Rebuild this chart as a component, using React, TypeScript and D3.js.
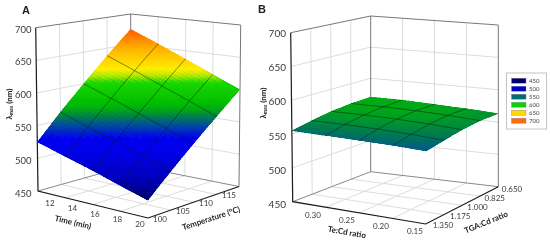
import React from "react";
import * as d3 from "d3";

const zTicks = [450, 500, 550, 600, 650, 700];
const timeTicks = [12, 14, 16, 18, 20];
const tempTicks = [100, 105, 110, 115];
const teTicks = ["0.30", "0.25", "0.20", "0.15"];
const tgaTicks = ["1.350", "1.175", "1.000", "0.825", "0.650"];
const legendValues = [450, 500, 550, 600, 650, 700];
const legendColors = ["#00006e", "#0000cc", "#006e6e", "#10d010", "#ffd800", "#ff6a10"];

// rows: time 12..20, columns: temperature 100..115 (lambda max, nm)
const valuesA = [
  [525, 563, 600, 638, 675],
  [512, 548, 584, 620, 656],
  [500, 535, 568, 602, 637],
  [487, 520, 552, 585, 618],
  [475, 506, 537, 568, 600],
];
// rows: Te:Cd 0.30..0.15, columns: TGA:Cd 1.350..0.650
const valuesB = [
  [555, 561, 566, 569, 570],
  [554, 561, 566, 569, 570],
  [553, 560, 565, 568, 568],
  [552, 558, 563, 566, 566],
  [550, 555, 560, 563, 563],
];

const colorStops: [number, string][] = [
  [450, "#000070"], [475, "#0000b8"], [510, "#0000e8"], [530, "#0000f0"], [548, "#00509a"], [558, "#007a50"],
  [566, "#00a020"], [575, "#00bc00"], [604, "#18d800"], [613, "#b0e800"], [622, "#ffee00"], [650, "#ffb000"],
  [680, "#ff4800"], [700, "#ff3000"],
];
const colorOf = d3.scaleLinear<string>()
  .domain(colorStops.map((d) => d[0]))
  .range(colorStops.map((d) => d[1]))
  .clamp(true);

type P = [number, number];
interface Box { fL: P; fF: P; fB: P; fR: P; cL: P; cF: P; cB: P; cR: P }

const boxA: Box = {
  fL: [38, 191], fF: [148, 218], fB: [130.7, 165], fR: [239, 186.5],
  cL: [35.7, 27.7], cF: [147, 43], cB: [130.7, 14], cR: [240.7, 25],
};
const boxB: Box = {
  fL: [292.7, 201.7], fF: [425.7, 224], fB: [370.7, 171.7], fR: [498.3, 186.7],
  cL: [290.7, 32.7], cF: [427, 42], cB: [370.7, 16], cR: [498.3, 25],
};
// Panel A's colour bands run level across the picture: height on the page gives the band.
const bandA = d3.scaleLinear().domain([141.7, 29.3]).range([525, 675]);

const zNorm = d3.scaleLinear().domain([450, 700]).range([0, 1]);
const lerp = (p: P, q: P, t: number): P => [p[0] + (q[0] - p[0]) * t, p[1] + (q[1] - p[1]) * t];
const proj = (box: Box, a: number, b: number, z: number): P => {
  const floor = lerp(lerp(box.fL, box.fF, a), lerp(box.fB, box.fR, a), b);
  const ceil = lerp(lerp(box.cL, box.cF, a), lerp(box.cB, box.cR, a), b);
  return lerp(floor, ceil, zNorm(z));
};
const pathOf = d3.line<P>().x((d) => d[0]).y((d) => d[1]);
const FONT = "Lato, 'Open Sans', sans-serif";
const GRID = "#dcdcdc";
const CELLS = d3.range(0, 5).map((d) => d / 4);

function Surface({ box, values, band }: { box: Box; values: number[][]; band?: (y: number) => number }) {
  const n = values.length - 1;
  const m = values[0].length - 1;
  const sub = 10;
  const value = (a: number, b: number) => {
    const i = Math.min(Math.floor(a * n), n - 1);
    const j = Math.min(Math.floor(b * m), m - 1);
    const s = a * n - i;
    const t = b * m - j;
    return (1 - s) * ((1 - t) * values[i][j] + t * values[i][j + 1]) + s * ((1 - t) * values[i + 1][j] + t * values[i + 1][j + 1]);
  };
  const steps = d3.range(0, n * sub).map((d) => d / (n * sub));
  const h = 1 / (n * sub);
  const quads = steps.flatMap((a) => steps.map((b) => {
    const v = value(a + h / 2, b + h / 2);
    const c = proj(box, a + h / 2, b + h / 2, v);
    const pts: P[] = [
      proj(box, a, b, value(a, b)),
      proj(box, a + h, b, value(a + h, b)),
      proj(box, a + h, b + h, value(a + h, b + h)),
      proj(box, a, b + h, value(a, b + h)),
    ];
    return { d: pathOf(pts)! + "Z", c: colorOf(band ? band(c[1]) : v) };
  }));
  const outline: P[] = [
    ...d3.range(0, n * sub + 1).map((k): P => proj(box, k * h, 0, value(k * h, 0))),
    ...d3.range(0, n * sub + 1).map((k): P => proj(box, 1, k * h, value(1, k * h))),
    ...d3.range(n * sub, -1, -1).map((k): P => proj(box, k * h, 1, value(k * h, 1))),
    ...d3.range(n * sub, -1, -1).map((k): P => proj(box, 0, k * h, value(0, k * h))),
  ];
  const clipId = "clip" + Math.round(box.fL[0]);
  const meshA = CELLS.slice(1, 4).map((a) => pathOf(d3.range(0, n * sub + 1).map((k) => {
    const b = k / (n * sub);
    return proj(box, a, b, value(a, b));
  }))!);
  const meshB = CELLS.slice(1, 4).map((b) => pathOf(d3.range(0, n * sub + 1).map((k) => {
    const a = k / (n * sub);
    return proj(box, a, b, value(a, b));
  }))!);
  return (
    <g>
      <clipPath id={clipId}><path d={pathOf(outline)! + "Z"} /></clipPath>
      <g clipPath={`url(#${clipId})`}>
        {quads.map((q, i) => <path key={i} d={q.d} fill={q.c} stroke={q.c} strokeWidth={1.2} shapeRendering="crispEdges" />)}
      </g>
      {[...meshA, ...meshB].map((d, i) => (
        <path key={i} d={d} fill="none" stroke="#04200c" strokeOpacity={0.62} strokeWidth={0.8} />
      ))}
    </g>
  );
}

function Cage({ box }: { box: Box }) {
  const wall = (pA: (t: number) => P, pB: (t: number) => P, key: string) =>
    CELLS.slice(1, 4).map((t) => (
      <line key={key + t} x1={pA(t)[0]} y1={pA(t)[1]} x2={pB(t)[0]} y2={pB(t)[1]} stroke={GRID} strokeWidth={1} />
    ));
  const zLines = zTicks.slice(1, 5).flatMap((z) => {
    const l = proj(box, 0, 0, z), b = proj(box, 0, 1, z), r = proj(box, 1, 1, z);
    return [
      <line key={"l" + z} x1={l[0]} y1={l[1]} x2={b[0]} y2={b[1]} stroke={GRID} strokeWidth={1} />,
      <line key={"r" + z} x1={b[0]} y1={b[1]} x2={r[0]} y2={r[1]} stroke={GRID} strokeWidth={1} />,
    ];
  });
  return (
    <g>
      {wall((t) => proj(box, 0, t, 450), (t) => proj(box, 0, t, 700), "lw")}
      {wall((t) => proj(box, t, 1, 450), (t) => proj(box, t, 1, 700), "rw")}
      {wall((t) => proj(box, 0, t, 450), (t) => proj(box, 1, t, 450), "fa")}
      {wall((t) => proj(box, t, 0, 450), (t) => proj(box, t, 1, 450), "fb")}
      {zLines}
      <path d={pathOf([box.cL, box.cB, box.cR])!} fill="none" stroke="#777" strokeWidth={1} />
      <path d={pathOf([box.fL, box.fB, box.fR])!} fill="none" stroke="#888" strokeWidth={1} />
      <line x1={box.fB[0]} y1={box.fB[1]} x2={box.cB[0]} y2={box.cB[1]} stroke="#777" strokeWidth={1} />
      <line x1={box.fR[0]} y1={box.fR[1]} x2={box.cR[0]} y2={box.cR[1]} stroke="#777" strokeWidth={1} />
    </g>
  );
}

function Axes({ box }: { box: Box }) {
  return (
    <path d={pathOf([box.cL, box.fL, box.fF, box.fR])!} fill="none" stroke="#1a1a1a" strokeWidth={1.2} />
  );
}

function AxisTicks({ labels, from, to, size }: { labels: (string | number)[]; from: P; to: P; size: number }) {
  const pos = d3.scalePoint<number>().domain(d3.range(labels.length) as any).range([0, 1]);
  return (
    <g fontFamily={FONT} fontSize={size} fill="#3a3a3a" textAnchor="middle" dominantBaseline="central">
      {labels.map((l, i) => {
        const p = lerp(from, to, pos(i)!);
        return <text key={String(l)} x={p[0]} y={p[1]}>{l}</text>;
      })}
    </g>
  );
}

function ZTicks({ x, y0, y1, size }: { x: number; y0: number; y1: number; size: number }) {
  const y = d3.scaleLinear().domain([450, 700]).range([y0, y1]);
  return (
    <g fontFamily={FONT} fontSize={size} fill="#3a3a3a" textAnchor="end" dominantBaseline="central">
      {zTicks.map((t) => <text key={t} x={x} y={y(t)}>{t}</text>)}
    </g>
  );
}

function Title({ x, y, rot, text, size = 8 }: { x: number; y: number; rot: number; text: string; size?: number }) {
  return (
    <text transform={`translate(${x},${y}) rotate(${rot})`} fontFamily={FONT} fontWeight={700} fontSize={size}
      fill="#222" textAnchor="middle" dominantBaseline="central">{text}</text>
  );
}

function YTitle({ x, y }: { x: number; y: number }) {
  return (
    <text transform={`translate(${x},${y}) rotate(-90)`} fontFamily={FONT} fontWeight={700} fontSize={8}
      fill="#222" textAnchor="middle" dominantBaseline="central">
      λ<tspan fontSize={5} dy={1.5}>max</tspan><tspan dy={-1.5}> (nm)</tspan>
    </text>
  );
}

function Legend() {
  const y = d3.scalePoint<number>().domain(legendValues).range([80.7, 120.7]);
  return (
    <g>
      <rect x={506.5} y={73} width={40} height={56} fill="#fff" stroke="#c4c4c4" strokeWidth={1} />
      {legendValues.map((v, i) => (
        <g key={v}>
          <rect x={511.5} y={y(v)! - 2.5} width={14.5} height={5} fill={legendColors[i]} stroke="#888" strokeWidth={0.4} />
          <text x={529} y={y(v)!} fontFamily={FONT} fontSize={6} fill="#444" dominantBaseline="central">{v}</text>
        </g>
      ))}
    </g>
  );
}

export default function App() {
  return (
    <svg width={550} height={244} viewBox="0 0 550 244"
      style={{ position: "absolute", left: 0, top: 0, background: "#fff" }}>
      <defs>
        <filter id="soft" x="-2%" y="-2%" width="104%" height="104%">
          <feGaussianBlur stdDeviation={0.45} />
        </filter>
      </defs>
      <g filter="url(#soft)">
        <Cage box={boxA} />
        <Surface box={boxA} values={valuesA} band={bandA} />
        <Axes box={boxA} />
        <ZTicks x={31.5} y0={193} y1={29} size={9.5} />
        <AxisTicks labels={timeTicks} from={[50, 203]} to={[140, 224]} size={8} />
        <AxisTicks labels={tempTicks} from={[160, 219]} to={[229, 195]} size={8} />
        <Title x={73} y={222} rot={13} text="Time (min)" />
        <Title x={211} y={218} rot={-18} text="Temperature (°C)" />
        <YTitle x={9} y={104} />

        <Cage box={boxB} />
        <Surface box={boxB} values={valuesB} />
        <Axes box={boxB} />
        <ZTicks x={286} y0={204} y1={33} size={10} />
        <AxisTicks labels={teTicks} from={[313, 215]} to={[415, 231]} size={8} />
        <AxisTicks labels={tgaTicks} from={[443, 225]} to={[512, 189]} size={8} />
        <Title x={347} y={232} rot={10} text="Te:Cd ratio" />
        <Title x={486} y={222} rot={-22} text="TGA:Cd ratio" />
        <YTitle x={263} y={103} />

        <Legend />
        <text x={22} y={10} dominantBaseline="central" fontFamily="'Liberation Sans', Arial, sans-serif" fontWeight={700} fontSize={11} fill="#222">A</text>
        <text x={258} y={9} dominantBaseline="central" fontFamily="'Liberation Sans', Arial, sans-serif" fontWeight={700} fontSize={11} fill="#222">B</text>
      </g>
    </svg>
  );
}
